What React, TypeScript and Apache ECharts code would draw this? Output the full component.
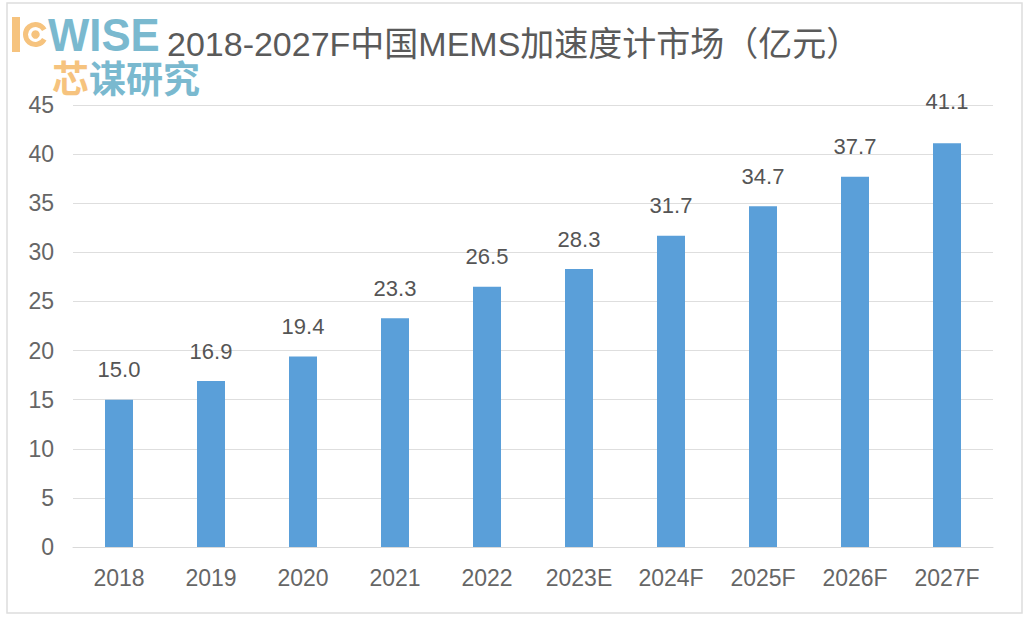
import React, { useEffect, useRef } from "react";
import * as echarts from "echarts";

const categories = ["2018", "2019", "2020", "2021", "2022", "2023E", "2024F", "2025F", "2026F", "2027F"];
const marketValues = [15.0, 16.9, 19.4, 23.3, 26.5, 28.3, 31.7, 34.7, 37.7, 41.1];
const titleText = "2018-2027F中国MEMS加速度计市场（亿元）";

const FONT = "'Liberation Sans', Arial, 'Noto Sans CJK SC', sans-serif";
const CJK = "'Noto Sans CJK SC', 'Liberation Sans', sans-serif";
const ORANGE = "#f6c37e";
const BLUE = "#7ab9cf";

export default function App() {
  const ref = useRef<HTMLDivElement>(null);
  useEffect(() => {
    document.body.style.margin = "0";
    const chart = echarts.init(ref.current!, null, { renderer: "svg" });
    const lastIdx = marketValues.length - 1;
    const barData = marketValues.map((v, i) =>
      i === lastIdx ? { value: v, label: { distance: 31 } } : { value: v }
    );
    chart.setOption({
      animation: false,
      backgroundColor: "#ffffff",
      grid: { left: 73, right: 36, top: 105, bottom: 73, containLabel: false },
      xAxis: {
        type: "category",
        data: categories,
        axisLine: { show: true, lineStyle: { color: "#d9d9d9", width: 1 } },
        axisTick: { show: false },
        axisLabel: { color: "#666666", fontSize: 23, fontFamily: FONT, margin: 19 },
      },
      yAxis: {
        type: "value",
        min: 0,
        max: 45,
        interval: 5,
        axisLine: { show: false },
        axisTick: { show: false },
        axisLabel: { color: "#666666", fontSize: 23, fontFamily: FONT, margin: 19 },
        splitLine: { lineStyle: { color: "#dedede", width: 1 } },
      },
      series: [
        {
          type: "bar",
          data: barData,
          barWidth: 28,
          itemStyle: { color: "#5a9fd9" },
          label: {
            show: true,
            position: "top",
            distance: 19,
            color: "#555555",
            fontSize: 22,
            fontFamily: FONT,
            formatter: (p: any) => Number(p.value).toFixed(1),
          },
        },
      ],
      graphic: [
        {
          type: "rect",
          shape: { x: 7, y: 3, width: 1015, height: 610 },
          style: { fill: "none", stroke: "#dddddd", lineWidth: 1.5 },
          silent: true,
        },
        {
          type: "text",
          x: 167,
          y: 44,
          style: { text: titleText, font: `34px ${FONT}`, fill: "#5a5a5a", textVerticalAlign: "middle" },
        },
        {
          type: "rect",
          shape: { x: 12, y: 17, width: 8, height: 35 },
          style: { fill: ORANGE },
        },
        {
          type: "arc",
          shape: { cx: 35.5, cy: 34.5, r: 10, startAngle: 0.5, endAngle: Math.PI * 2 - 0.5, clockwise: true },
          style: { stroke: ORANGE, lineWidth: 5, fill: "none" },
        },
        {
          type: "circle",
          shape: { cx: 35.5, cy: 34.5, r: 4.2 },
          style: { fill: ORANGE },
        },
        {
          type: "text",
          x: 48,
          y: 34.5,
          scaleX: 0.93,
          style: { text: "WISE", font: `bold 47px ${FONT}`, fill: BLUE, textVerticalAlign: "middle" },
        },
        {
          type: "text",
          x: 52,
          y: 77,
          style: { text: "芯", font: `bold 37px ${CJK}`, fill: ORANGE, textVerticalAlign: "middle" },
        },
        {
          type: "text",
          x: 89,
          y: 77,
          style: { text: "谋研究", font: `bold 37px ${CJK}`, fill: BLUE, textVerticalAlign: "middle" },
        },
      ],
    });
    return () => chart.dispose();
  }, []);
  return <div ref={ref} style={{ width: 1029, height: 620 }} />;
}
